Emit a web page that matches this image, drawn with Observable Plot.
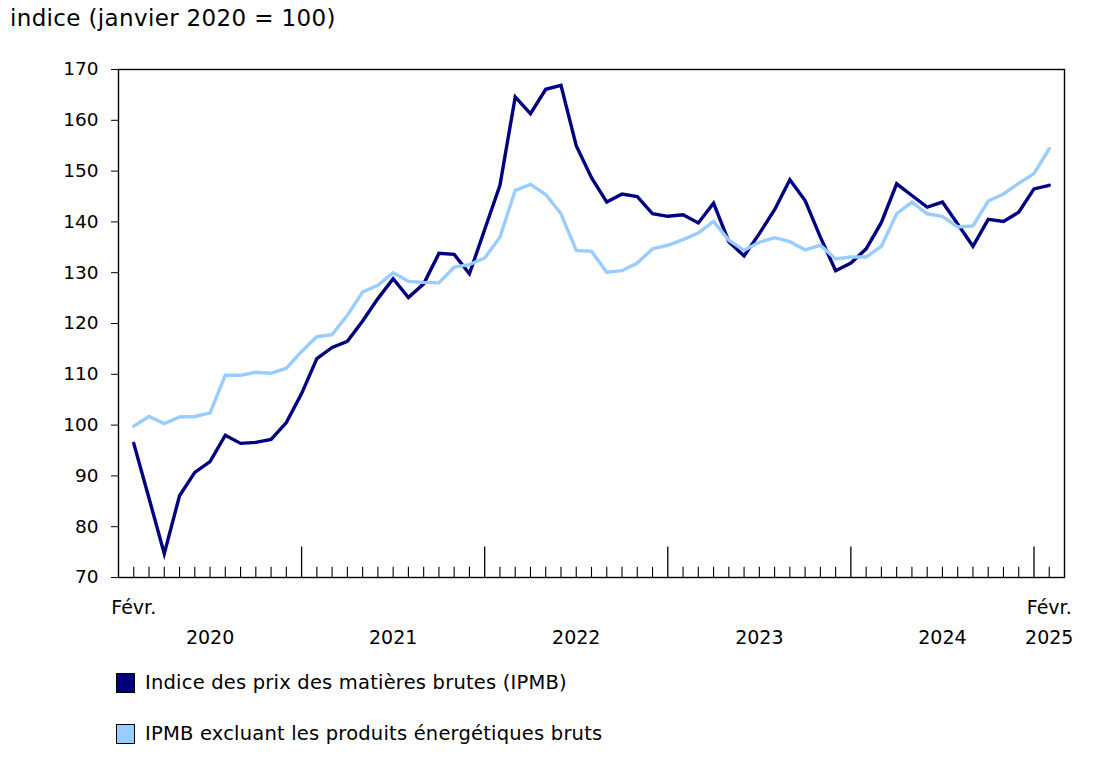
<!DOCTYPE html>
<html>
<head>
<meta charset="utf-8">
<script src="https://cdn.jsdelivr.net/npm/d3@7"></script>
<script src="https://cdn.jsdelivr.net/npm/@observablehq/plot@0.6"></script>
<style>
  html, body { margin: 0; padding: 0; background: #fff; }
  body { width: 1111px; height: 760px; position: relative; overflow: hidden; font-family: "DejaVu Sans", Verdana, sans-serif; color: #000; }
  #title { position: absolute; left: 10px; top: 4px; font-size: 23px; line-height: 28px; letter-spacing: 0.35px; }
  #chart { position: absolute; left: 0; top: 0; }
  .leg { position: absolute; left: 116px; font-size: 19.5px; line-height: 24px; display: flex; align-items: center; letter-spacing: 0.2px; }
  .sw { width: 17px; height: 18px; border: 1.5px solid #000; margin-right: 10px; }
</style>
</head>
<body>
<div id="chart"></div>
<div id="title">indice (janvier 2020 = 100)</div>
<div class="leg" style="top:671px"><div class="sw" style="background:#000080"></div>Indice des prix des matières brutes (IPMB)</div>
<div class="leg" style="top:722px"><div class="sw" style="background:#99ccff"></div>IPMB excluant les produits énergétiques bruts</div>
<script>
// Months: index 0 = Feb 2020 ... index 60 = Feb 2025
const ipmb = [
  96.4, 85.6, 74.7, 86.1, 90.7, 92.8, 98.0, 96.4, 96.6, 97.2, 100.5,
  106.2, 113.1, 115.3, 116.5, 120.5, 124.9, 128.8, 125.1, 127.8, 133.8, 133.6, 129.8,
  138.5, 147.2, 164.6, 161.3, 166.1, 166.9, 155.0, 148.7, 143.9, 145.5, 145.0, 141.6,
  141.1, 141.4, 139.8, 143.7, 136.1, 133.3, 137.7, 142.4, 148.3, 144.2, 137.0, 130.4,
  131.9, 134.7, 139.9, 147.5, 145.2, 142.9, 143.9, 139.6, 135.2, 140.5, 140.1, 141.9,
  146.5, 147.2
];
const ipmbExEnergy = [
  99.8, 101.7, 100.3, 101.6, 101.7, 102.4, 109.8, 109.8, 110.4, 110.2, 111.2,
  114.5, 117.4, 117.8, 121.6, 126.2, 127.5, 130.0, 128.3, 128.1, 128.0, 131.1, 131.6,
  132.9, 137.0, 146.2, 147.4, 145.4, 141.6, 134.4, 134.2, 130.1, 130.4, 131.9, 134.7,
  135.4, 136.5, 137.8, 140.1, 136.4, 134.4, 136.0, 136.9, 136.1, 134.5, 135.4, 132.7,
  133.1, 133.1, 135.2, 141.6, 143.9, 141.6, 141.1, 139.0, 139.2, 144.1, 145.5, 147.6,
  149.5, 154.4
];
const seriesNames = ["Indice des prix des matières brutes (IPMB)", "IPMB excluant les produits énergétiques bruts"];
const seriesColors = ["#000080", "#99ccff"];
const yTicks = [70, 80, 90, 100, 110, 120, 130, 140, 150, 160, 170];
const monthLabels = [{i: 0, label: "Févr."}, {i: 60, label: "Févr."}];
const yearLabels = [{i: 5, label: "2020"}, {i: 17, label: "2021"}, {i: 29, label: "2022"}, {i: 41, label: "2023"}, {i: 53, label: "2024"}, {i: 60, label: "2025"}];
const januaryIdx = [11, 23, 35, 47, 59];

const months = d3.range(ipmb.length);
const data = [
  ...ipmb.map((v, i) => ({i, v, s: seriesNames[0]})),
  ...ipmbExEnergy.map((v, i) => ({i, v, s: seriesNames[1]}))
];
const minor = months.filter(i => !januaryIdx.includes(i));

const chart = Plot.plot({
  width: 1111,
  height: 660,
  marginLeft: 118,
  marginRight: 47,
  marginTop: 69,
  marginBottom: 83,
  style: {fontFamily: "DejaVu Sans, Verdana, sans-serif", fontSize: "18.5px", color: "#000", background: "transparent"},
  x: {domain: [-1, ipmb.length], axis: null},
  y: {domain: [70, 170], ticks: yTicks},
  color: {domain: seriesNames, range: seriesColors},
  marks: [
    Plot.axisY({ticks: yTicks, tickSize: 7, tickPadding: 13, fontSize: 18.5, label: null, stroke: "#000"}),
    Plot.ruleX(minor, {x: d => d, y1: 70, y2: 72, stroke: "#000", strokeWidth: 1.1}),
    Plot.ruleX(januaryIdx, {x: d => d, y1: 70, y2: 76, stroke: "#000", strokeWidth: 1.3}),
    Plot.line(data, {x: "i", y: "v", z: "s", stroke: "s", strokeWidth: 3.4, strokeLinejoin: "miter", strokeMiterlimit: 4}),
    Plot.frame({stroke: "#000", strokeWidth: 1.4}),
    Plot.text(monthLabels, {x: "i", y: () => 70, text: "label", dy: 30, fontSize: 19, lineAnchor: "middle"}),
    Plot.text(yearLabels, {x: "i", y: () => 70, text: "label", dy: 60, fontSize: 19, lineAnchor: "middle"})
  ]
});
document.getElementById("chart").appendChild(chart);
</script>
</body>
</html>
